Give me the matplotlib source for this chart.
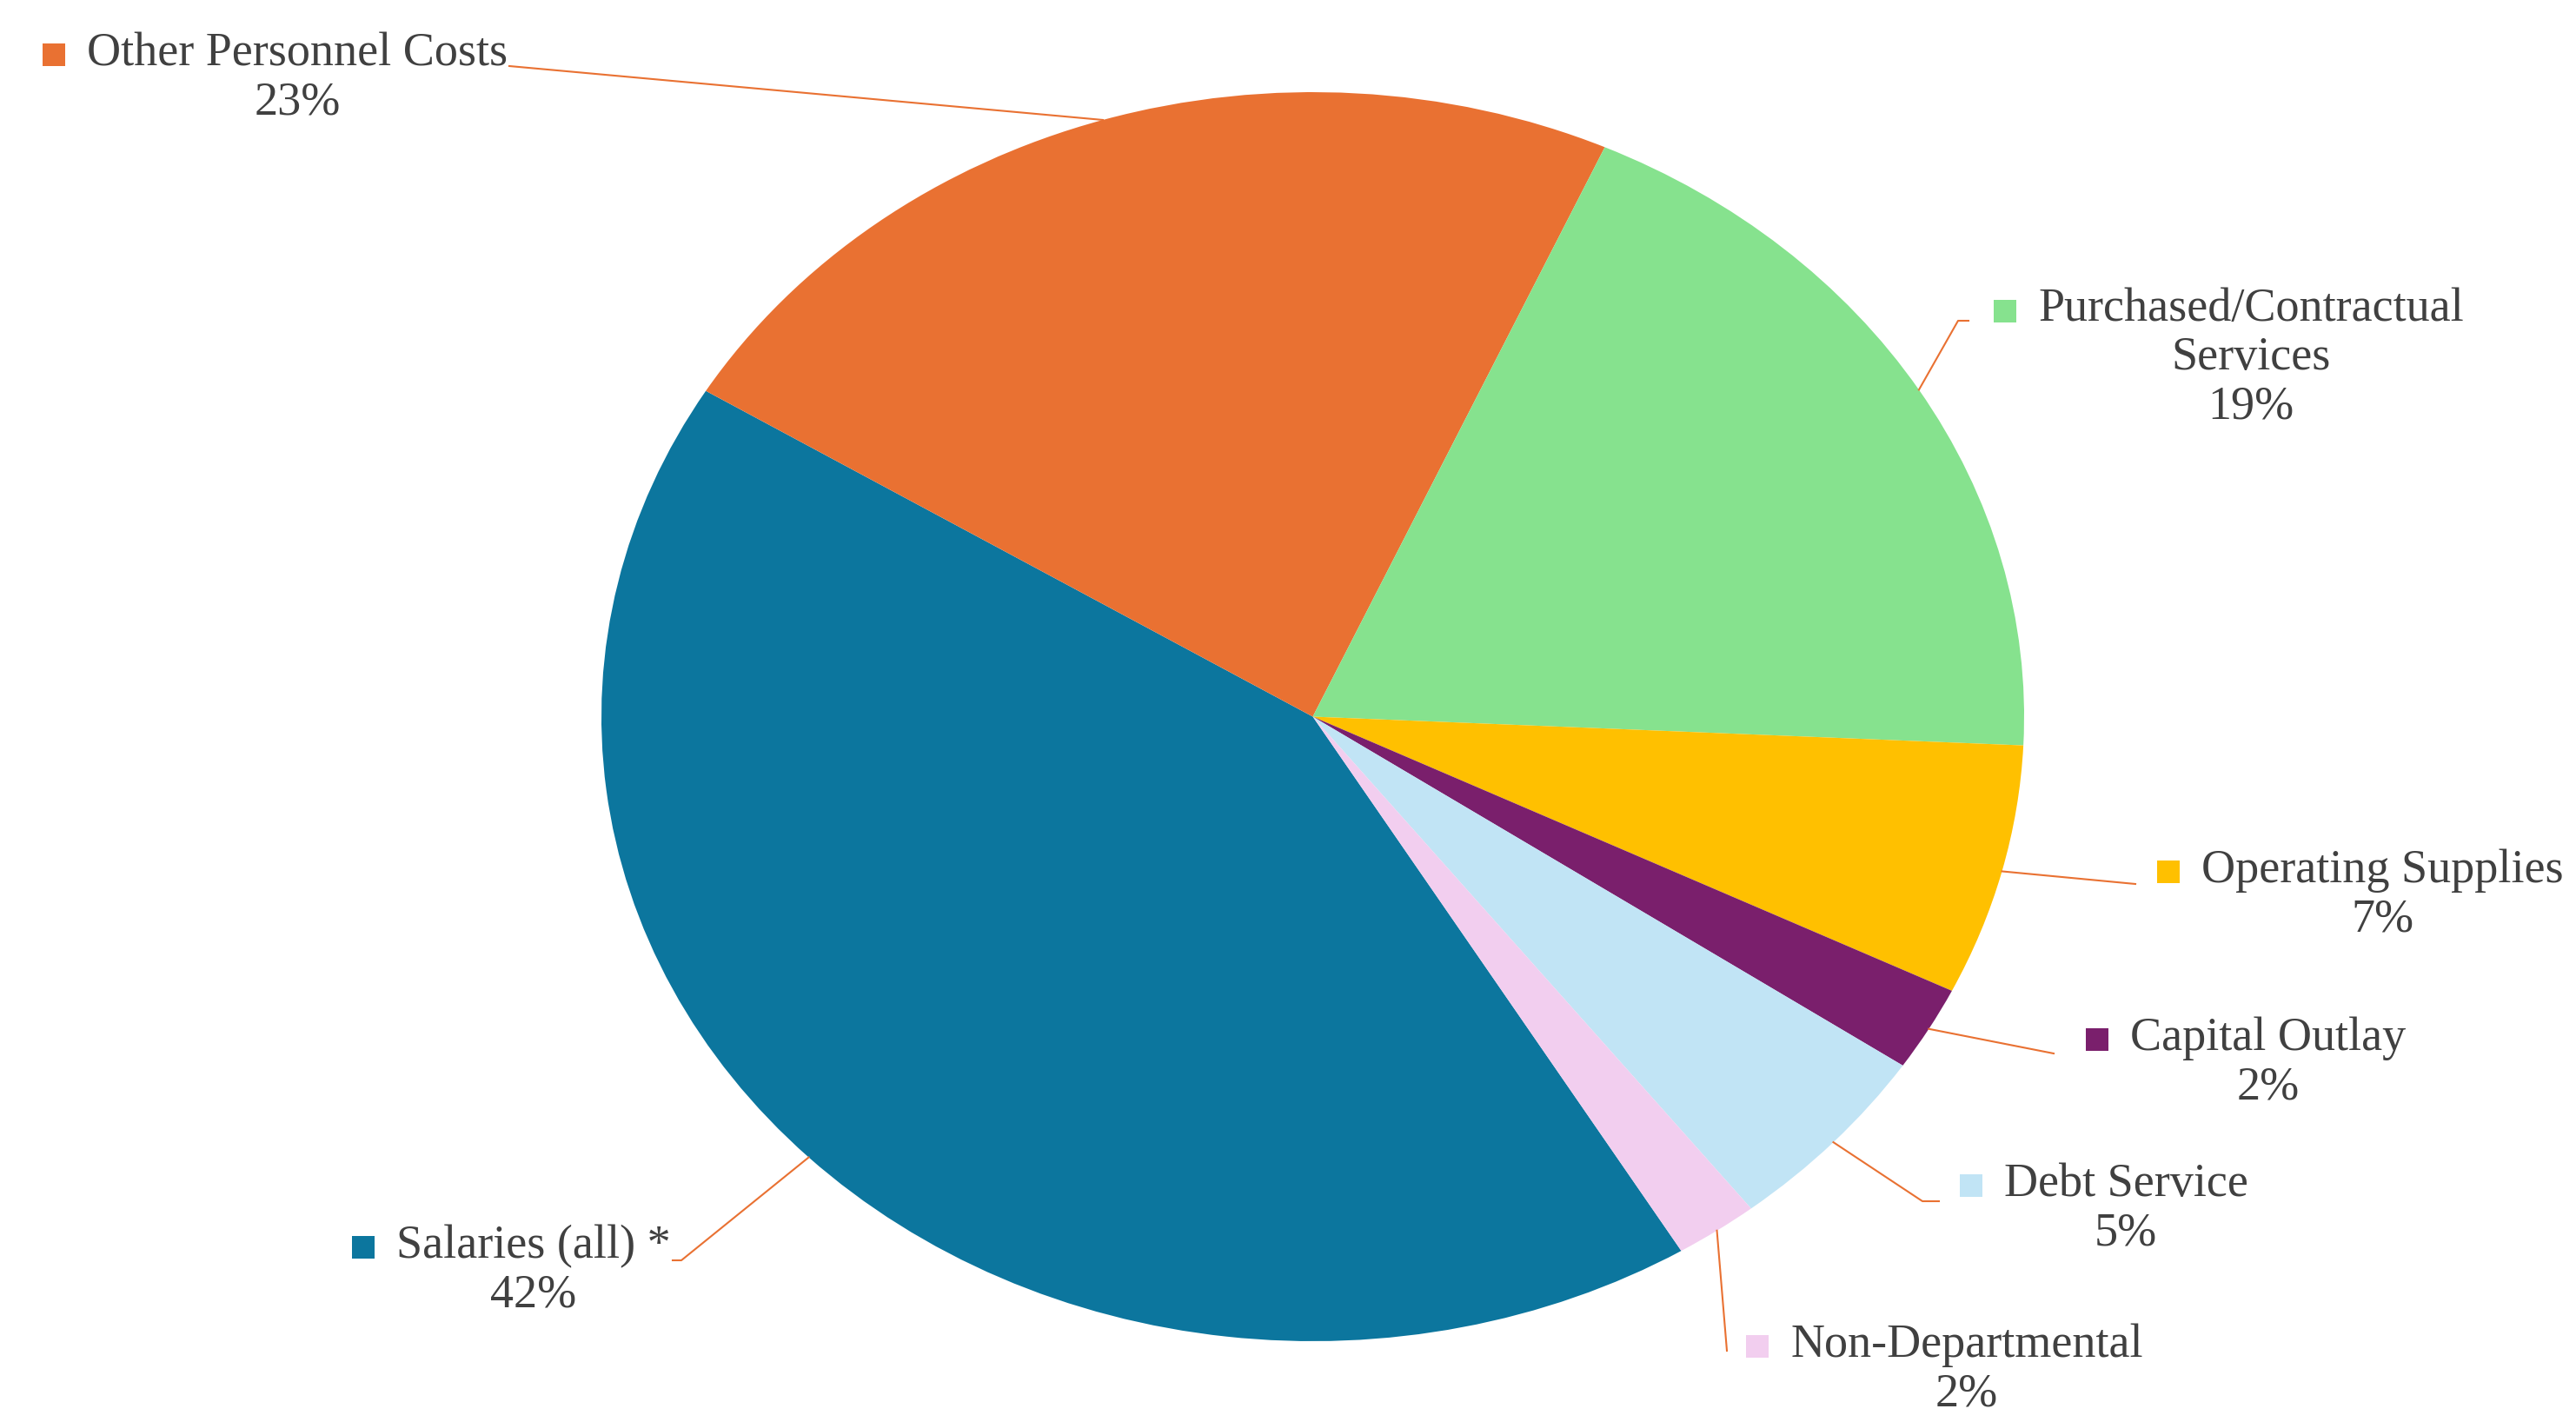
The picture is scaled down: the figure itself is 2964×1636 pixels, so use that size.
import numpy as np
from matplotlib import pyplot as plt

plt.rcParams['font.family'] = ['Liberation Serif', 'DejaVu Serif']

# Data (percent of total budget)
categories = ["Salaries (all) *", "Other Personnel Costs", "Purchased/Contractual\nServices",
              "Operating Supplies", "Capital Outlay", "Debt Service", "Non-Departmental"]
shares = [42.4, 23.0, 19.0, 6.5, 2.2, 5.0, 1.9]
colors = ["#0C769E", "#E97132", "#86E28E", "#FFC000", "#7A1F6C", "#C1E4F5", "#F2CEEF"]

# label layout in image pixels (from top-left): text block centre, leader elbow, tail length
label_centres = [(614, 1462), (342, 90), (2590, 412), (2741, 1030), (2610, 1223), (2446, 1391), (2263, 1576)]
leader_elbows = [(784, 1450), (586, 76), (2253, 369), (2457, 1017), (2363, 1212), (2212, 1382), (1987, 1554)]
leader_tails = [-10, 0, 12, 0, 0, 19, 0]

W, H = 2964, 1636
cx, cy, rx, ry = 1510.5, 824.5, 818.5, 718.5  # pie centre and radii in pixels


def px2data(px, py):
    return (px - cx) / rx, (cy - py) / ry


fig = plt.figure(figsize=(W / 100, H / 100), dpi=100)
ax = fig.add_axes([0, 0, 1, 1])
wedges, _ = ax.pie(shares, colors=colors, startangle=90 - 148.8, counterclock=False,
                   wedgeprops=dict(linewidth=0))
ax.set_aspect('auto')
ax.set_xlim(px2data(0, 0)[0], px2data(W, 0)[0])
ax.set_ylim(px2data(0, H)[1], px2data(0, 0)[1])
ax.axis('off')

total = sum(shares)
texts = []
for i, w in enumerate(wedges):
    pct = int(shares[i] / total * 100 + 0.5)
    mid = np.deg2rad((w.theta1 + w.theta2) / 2)
    ex, ey = leader_elbows[i]
    x1, y1 = px2data(ex, ey)
    x2, y2 = px2data(ex + leader_tails[i], ey)
    ax.plot([np.cos(mid), x1, x2], [np.sin(mid), y1, y2], color="#E97132", lw=1.5, zorder=1)
    tx, ty = px2data(*label_centres[i])
    t = ax.text(tx, ty, f"{categories[i]}\n{pct}%", ha='center', va='center',
                multialignment='center', fontsize=39, color="#404040", linespacing=1.15, zorder=3)
    texts.append(t)

# colour squares in front of the first label line
fig.canvas.draw()
renderer = fig.canvas.get_renderer()
inv = ax.transData.inverted()
for i, t in enumerate(texts):
    bb = t.get_window_extent(renderer)
    nlines = t.get_text().count("\n") + 1
    lh = bb.height / nlines
    mx, my = inv.transform((bb.x0 - 38, bb.y1 - lh * 0.5))
    ax.plot(mx, my, marker='s', markersize=19, color=colors[i], markeredgewidth=0, zorder=3)

fig.savefig("out.png", dpi=100)
